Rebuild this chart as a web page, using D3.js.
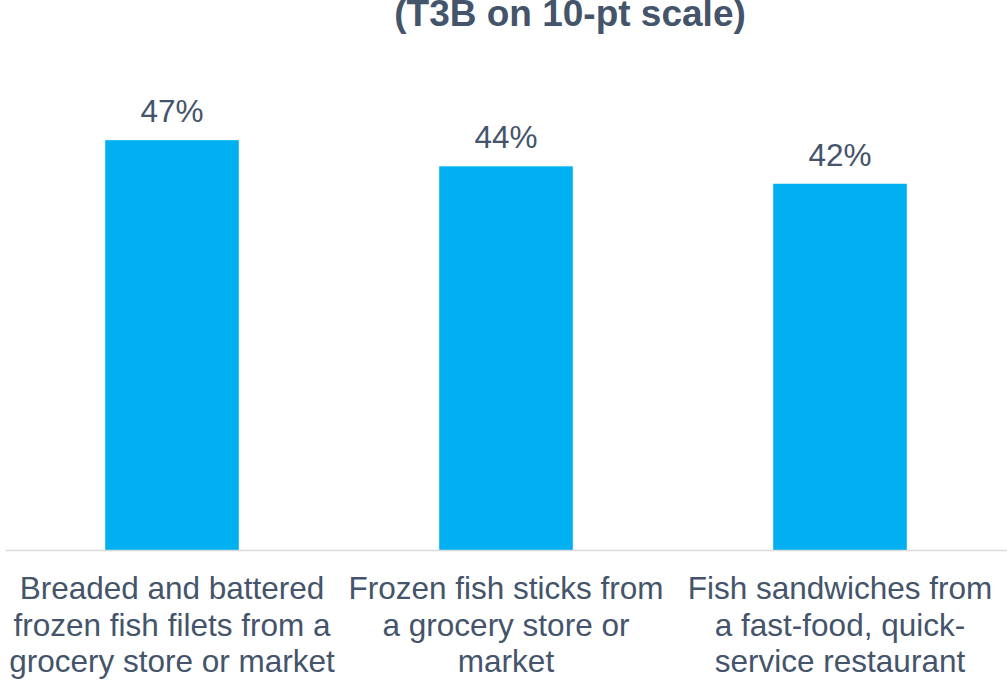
<!DOCTYPE html>
<html>
<head>
<meta charset="utf-8">
<script src="https://cdn.jsdelivr.net/npm/d3@7"></script>
<style>
  html, body { margin: 0; padding: 0; background: #ffffff; }
  svg { display: block; }
  text { font-family: "Liberation Sans", Arial, sans-serif; }
</style>
</head>
<body>
<svg id="chart" width="1007" height="681"></svg>
<script>
// Share rating the product a top-three-box score
const categories = ["filets", "sticks", "sandwiches"];
const categoryLines = [
  ["Breaded and battered", "frozen fish filets from a", "grocery store or market"],
  ["Frozen fish sticks from", "a grocery store or", "market"],
  ["Fish sandwiches from", "a fast-food, quick-", "service restaurant"]
];
const values = [47, 44, 42];
const valueLabels = ["47%", "44%", "42%"];
const titleText = "(T3B on 10-pt scale)";

const svg = d3.select("#chart");
const textColor = "#44546a";

const x = d3.scaleBand()
  .domain(categories)
  .range([5, 1007])
  .paddingInner(0.6)
  .paddingOuter(0.3);

const y = d3.scaleLinear()
  .domain([0, 50])
  .range([550, 114]);

// Title
svg.append("text")
  .attr("x", 570)
  .attr("y", 25.5)
  .attr("text-anchor", "middle")
  .attr("font-size", 37)
  .attr("font-weight", "bold")
  .attr("fill", textColor)
  .text(titleText);

// Bars
svg.selectAll("rect.bar")
  .data(values)
  .join("rect")
  .attr("class", "bar")
  .attr("x", (d, i) => x(categories[i]))
  .attr("y", d => y(d))
  .attr("width", x.bandwidth())
  .attr("height", d => y(0) - y(d))
  .attr("fill", "#00b0f0");

// Value labels
svg.selectAll("text.value")
  .data(values)
  .join("text")
  .attr("class", "value")
  .attr("x", (d, i) => x(categories[i]) + x.bandwidth() / 2)
  .attr("y", d => y(d) - 18)
  .attr("text-anchor", "middle")
  .attr("font-size", 31.5)
  .attr("fill", textColor)
  .text((d, i) => valueLabels[i]);

// Category axis
const axis = svg.append("g")
  .attr("transform", `translate(0,${y(0)})`)
  .call(d3.axisBottom(x).tickSize(0).tickFormat(""));
axis.select(".domain").attr("stroke", "#d9d9d9").attr("stroke-width", 1.5);

// Wrapped category labels
const labels = svg.selectAll("text.cat")
  .data(categories)
  .join("text")
  .attr("class", "cat")
  .attr("text-anchor", "middle")
  .attr("font-size", 31.5)
  .attr("fill", textColor);

labels.each(function (c, i) {
  const cx = x(c) + x.bandwidth() / 2;
  d3.select(this).selectAll("tspan")
    .data(categoryLines[i])
    .join("tspan")
    .attr("x", cx)
    .attr("y", (d, j) => 599.3 + j * 36.2)
    .text(d => d);
});
</script>
</body>
</html>
